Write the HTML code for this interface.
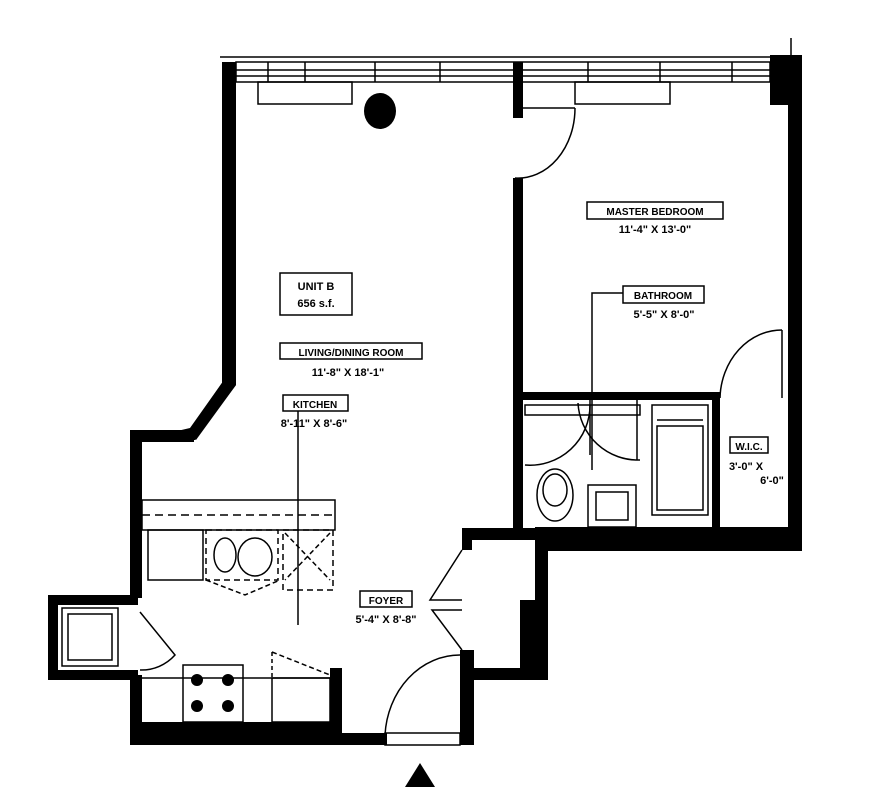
<!DOCTYPE html>
<html><head><meta charset="utf-8"><style>
body{margin:0;background:#fff}
svg{display:block}
text{font-family:"Liberation Sans",sans-serif;font-weight:bold;fill:#000}
</style></head><body>
<svg width="896" height="800" viewBox="0 0 896 800" xmlns="http://www.w3.org/2000/svg">
<rect width="896" height="800" fill="#fff"/>
<g fill="#000">
<!-- living left wall -->
<polygon points="222,62 236,62 236,385 195,440 142,440 142,430 130,430 130,442 190,428 224,380"/>
<rect x="222" y="62" width="14" height="322"/>
<polygon points="224,380 236,385 196,440 188,432"/>
<rect x="130" y="430" width="64" height="12"/>
<rect x="130" y="430" width="12" height="168"/>
<!-- laundry -->
<rect x="48" y="595" width="90" height="10"/>
<rect x="48" y="595" width="10" height="85"/>
<rect x="48" y="670" width="90" height="10"/>
<rect x="130" y="675" width="12" height="70"/>
<!-- bottom wall -->
<rect x="130" y="722" width="212" height="23"/>
<rect x="330" y="668" width="12" height="77"/>
<rect x="342" y="733" width="45" height="12"/>
<rect x="460" y="650" width="14" height="95"/>
<!-- closet -->
<rect x="462" y="528" width="86" height="12"/>
<rect x="462" y="528" width="10" height="22"/>
<rect x="535" y="528" width="13" height="152"/>
<rect x="520" y="600" width="28" height="80"/>
<rect x="470" y="668" width="78" height="12"/>
<!-- bedroom walls -->
<rect x="513" y="62" width="10" height="56"/>
<rect x="513" y="178" width="10" height="352"/>
<rect x="770" y="55" width="30" height="50"/>
<rect x="788" y="55" width="14" height="495"/>
<rect x="515" y="392" width="205" height="8"/>
<rect x="712" y="392" width="8" height="148"/>
<rect x="535" y="527" width="267" height="24"/>
<rect x="515" y="392" width="8" height="140"/>
<!-- column -->
<ellipse cx="380" cy="111" rx="16" ry="18"/>
<!-- arrow -->
<polygon points="420,763 405,787 435,787"/>
</g>
<g fill="none" stroke="#000" stroke-width="1.5">
<!-- windows -->
<line x1="220" y1="57" x2="770" y2="57"/>
<rect x="236" y="62" width="534" height="20"/>
<line x1="236" y1="70" x2="770" y2="70"/>
<line x1="236" y1="76" x2="770" y2="76"/>
<line x1="268" y1="62" x2="268" y2="82"/><line x1="305" y1="62" x2="305" y2="82"/>
<line x1="375" y1="62" x2="375" y2="82"/><line x1="440" y1="62" x2="440" y2="82"/>
<line x1="588" y1="62" x2="588" y2="82"/><line x1="660" y1="62" x2="660" y2="82"/>
<line x1="732" y1="62" x2="732" y2="82"/>
<line x1="791" y1="38" x2="791" y2="55"/>
<rect x="258" y="82" width="94" height="22"/>
<rect x="575" y="82" width="95" height="22"/>
<!-- bedroom door -->
<line x1="523" y1="108" x2="575" y2="108"/>
<path d="M575,108 A57,70 0 0 1 515,178"/>
<!-- WIC door -->
<path d="M720,398 A62,70 0 0 1 782,330"/>
<line x1="782" y1="330" x2="782" y2="398"/>
<!-- bath interior -->
<rect x="525" y="405" width="115" height="10"/>
<path d="M525,465 A60,60 0 0 0 590,405"/>
<path d="M640,460 A60,60 0 0 1 578,403"/>
<line x1="590" y1="400" x2="590" y2="455"/>
<line x1="637" y1="400" x2="637" y2="460"/>
<ellipse cx="555" cy="495" rx="18" ry="26"/>
<ellipse cx="555" cy="490" rx="12" ry="16"/>
<rect x="588" y="485" width="48" height="42"/>
<rect x="596" y="492" width="32" height="28"/>
<rect x="652" y="405" width="56" height="110"/>
<rect x="657" y="426" width="46" height="84"/>
<line x1="657" y1="420" x2="703" y2="420"/>
<!-- leaders -->
<line x1="298" y1="410" x2="298" y2="625"/>
<polyline points="623,293 592,293 592,470"/>
<!-- kitchen counters -->
<rect x="142" y="500" width="193" height="30"/>
<line x1="142" y1="515" x2="335" y2="515" stroke-dasharray="8,5"/>
<rect x="148" y="530" width="55" height="50"/>
<rect x="206" y="530" width="72" height="50" stroke-dasharray="6,4"/>
<ellipse cx="225" cy="555" rx="11" ry="17"/>
<ellipse cx="255" cy="557" rx="17" ry="19"/>
<rect x="283" y="530" width="50" height="60" stroke-dasharray="6,4"/>
<line x1="285" y1="533" x2="330" y2="580" stroke-dasharray="5,3"/>
<line x1="330" y1="533" x2="285" y2="580" stroke-dasharray="5,3"/>
<polyline points="206,580 245,595 280,580" stroke-dasharray="5,3"/>
<!-- laundry -->
<rect x="62" y="608" width="56" height="58"/>
<rect x="68" y="614" width="44" height="46"/>
<path d="M140,612 L175,655 A45,45 0 0 1 140,670"/>
<!-- stove / counters -->
<line x1="142" y1="678" x2="330" y2="678"/>
<rect x="183" y="665" width="60" height="57"/>
<rect x="272" y="678" width="58" height="44"/>
<line x1="272" y1="652" x2="272" y2="678" stroke-dasharray="4,3"/>
<line x1="272" y1="652" x2="330" y2="675" stroke-dasharray="5,3"/>
<!-- foyer -->
<path d="M462,550 L430,600 L462,600 M462,650 L432,610 L462,610"/>
<line x1="462" y1="660" x2="462" y2="733"/>
<path d="M385,735 A75,85 0 0 1 460,655"/>
<rect x="385" y="733" width="75" height="12"/>
</g>
<g fill="#000">
<circle cx="197" cy="680" r="6"/><circle cx="228" cy="680" r="6"/>
<circle cx="197" cy="706" r="6"/><circle cx="228" cy="706" r="6"/>
</g>
<g fill="#fff" stroke="#000" stroke-width="1.5">
<rect x="280" y="273" width="72" height="42"/>
<rect x="280" y="343" width="142" height="16"/>
<rect x="283" y="395" width="65" height="16"/>
<rect x="587" y="202" width="136" height="17"/>
<rect x="623" y="286" width="81" height="17"/>
<rect x="730" y="437" width="38" height="16"/>
<rect x="360" y="591" width="52" height="16"/>
</g>
<g font-size="11" text-anchor="middle">
<text x="316" y="290">UNIT B</text>
<text x="316" y="307">656 s.f.</text>
<text x="351" y="356" font-size="10">LIVING/DINING ROOM</text>
<text x="348" y="376">11'-8" X 18'-1"</text>
<text x="315" y="408" font-size="10">KITCHEN</text>
<text x="314" y="427">8'-11" X 8'-6"</text>
<text x="655" y="215" font-size="10">MASTER BEDROOM</text>
<text x="655" y="233">11'-4" X 13'-0"</text>
<text x="663" y="299" font-size="10">BATHROOM</text>
<text x="664" y="318">5'-5" X 8'-0"</text>
<text x="749" y="450" font-size="10">W.I.C.</text>
<text x="746" y="470">3'-0" X</text>
<text x="772" y="484">6'-0"</text>
<text x="386" y="604" font-size="10">FOYER</text>
<text x="386" y="623">5'-4" X 8'-8"</text>
</g>
</svg>
</body></html>
